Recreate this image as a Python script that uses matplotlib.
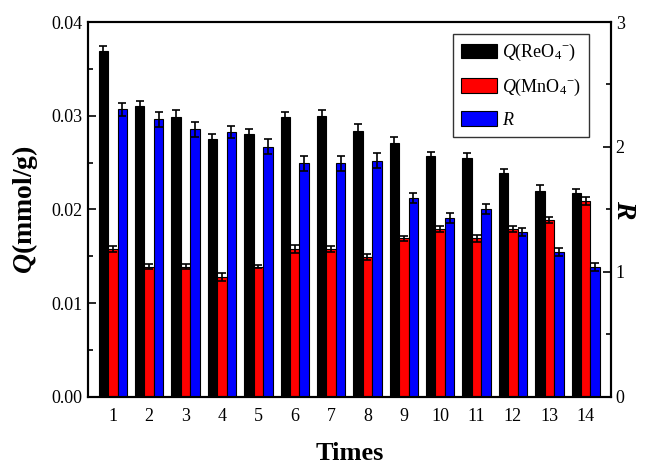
import matplotlib
matplotlib.use('Agg')
import numpy as np
from matplotlib import pyplot as plt
from matplotlib.ticker import MultipleLocator

plt.rcParams['font.family'] = ['Liberation Serif', 'DejaVu Serif']
plt.rcParams['mathtext.fontset'] = 'custom'
plt.rcParams['mathtext.rm'] = 'Liberation Serif'
plt.rcParams['mathtext.it'] = 'Liberation Serif:italic'
plt.rcParams['mathtext.bf'] = 'Liberation Serif:bold'
plt.rcParams['mathtext.bfit'] = 'Liberation Serif:bold:italic'

times = np.arange(1, 15)

# Q(ReO4-) in mmol/g
q_reo4 = [0.0369, 0.0310, 0.0299, 0.0275, 0.0281, 0.0299, 0.0300,
          0.0284, 0.0271, 0.0257, 0.0255, 0.0239, 0.0220, 0.0218]
q_reo4_err = [0.0005, 0.0006, 0.0007, 0.0005, 0.0005, 0.0005, 0.0006,
              0.0007, 0.0006, 0.0004, 0.0005, 0.0004, 0.0006, 0.0004]

# Q(MnO4-) in mmol/g
q_mno4 = [0.0158, 0.0139, 0.0139, 0.0128, 0.0139, 0.0158, 0.0158,
          0.0149, 0.0169, 0.0179, 0.0169, 0.0179, 0.0189, 0.0209]
q_mno4_err = [0.0003, 0.0003, 0.0003, 0.0004, 0.0002, 0.0004, 0.0003,
              0.0003, 0.0003, 0.0003, 0.0004, 0.0003, 0.0003, 0.0004]

# separation factor R
r_vals = [2.30, 2.22, 2.14, 2.12, 2.00, 1.87, 1.87,
          1.89, 1.59, 1.43, 1.50, 1.32, 1.16, 1.04]
r_err = [0.05, 0.06, 0.06, 0.05, 0.06, 0.06, 0.06,
         0.06, 0.04, 0.04, 0.04, 0.03, 0.03, 0.03]

fig = plt.figure(figsize=(6.45, 4.69), dpi=100)
ax = fig.add_axes([0.136, 0.154, 0.811, 0.799])
ax2 = ax.twinx()

w = 0.26
err_kw = dict(ecolor='black', elinewidth=1.2, capsize=3, capthick=1.2)
b1 = ax.bar(times - w, q_reo4, w, yerr=q_reo4_err, color='black',
            edgecolor='black', linewidth=0.8, error_kw=err_kw, label=r'$\mathit{Q}$(ReO$_4{}^{-}$)')
b2 = ax.bar(times, q_mno4, w, yerr=q_mno4_err, color='#ff0000',
            edgecolor='black', linewidth=0.8, error_kw=err_kw, label=r'$\mathit{Q}$(MnO$_4{}^{-}$)')
b3 = ax2.bar(times + w, r_vals, w, yerr=r_err, color='#0000ff',
             edgecolor='black', linewidth=0.8, error_kw=err_kw, label=r'$\mathit{R}$')

ax.set_xlim(0.31, 14.69)
ax.set_ylim(0, 0.04)
ax2.set_ylim(0, 3)
ax.set_xticks(times)
ax.set_xticklabels([str(t) for t in times])
ax.yaxis.set_major_locator(MultipleLocator(0.01))
ax.yaxis.set_minor_locator(MultipleLocator(0.005))
ax.yaxis.set_major_formatter(matplotlib.ticker.FormatStrFormatter('%.2f'))
ax2.yaxis.set_major_locator(MultipleLocator(1))
ax2.yaxis.set_minor_locator(MultipleLocator(0.5))

ax.tick_params(axis='x', length=0, labelsize=13, pad=8)
ax.tick_params(axis='y', which='both', direction='in', labelsize=13, width=1.2)
ax.tick_params(axis='y', which='major', length=6)
ax.tick_params(axis='y', which='minor', length=3.5)
ax2.tick_params(axis='y', which='both', direction='in', labelsize=13, width=1.2)
ax2.tick_params(axis='y', which='major', length=6)
ax2.tick_params(axis='y', which='minor', length=3.5)
for a in (ax, ax2):
    for s in a.spines.values():
        s.set_linewidth(1.5)

ax.set_xlabel('Times', fontsize=19, fontweight='bold', labelpad=12)
ax.set_ylabel(r'$\mathbfit{Q}$(mmol/g)', fontsize=20, fontweight='bold', labelpad=8)
ax2.set_ylabel('R', fontsize=20, fontweight='bold', style='italic', rotation=-90, labelpad=8)

leg = ax.legend(handles=[b1, b2, b3], loc='upper right', bbox_to_anchor=(0.958, 0.968),
                borderaxespad=0, fontsize=13, frameon=True, fancybox=False,
                edgecolor='black', labelspacing=0.75, handlelength=2.0,
                handleheight=0.85, handletextpad=0.25, borderpad=0.45)
leg.get_frame().set_linewidth(1.0)

plt.savefig('out.png', dpi=100)
